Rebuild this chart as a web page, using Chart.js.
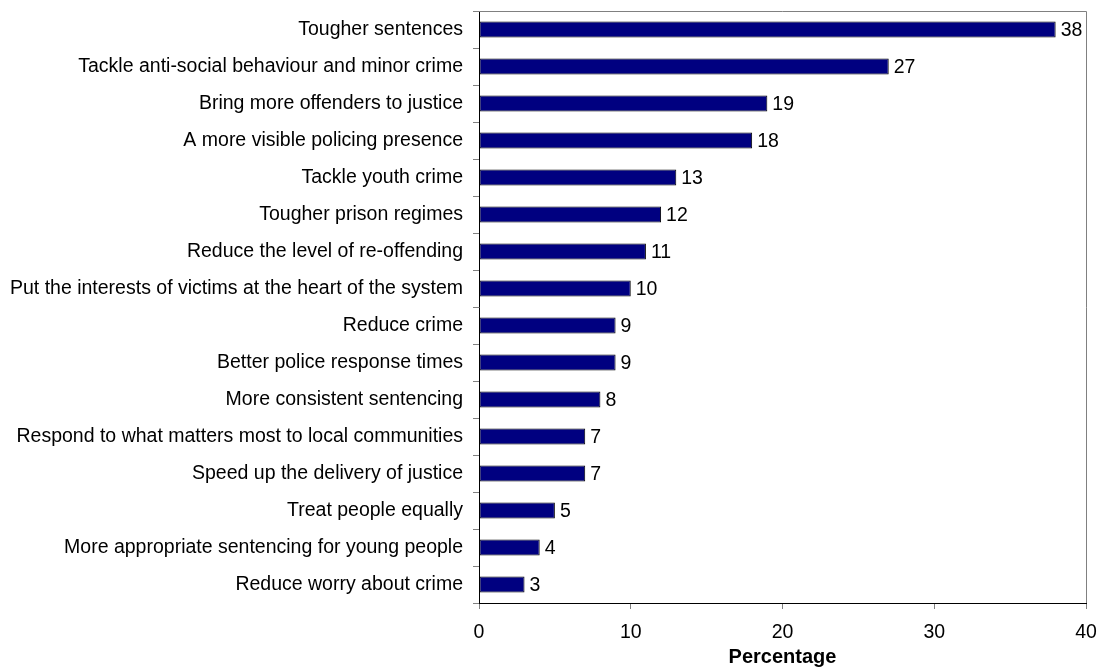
<!DOCTYPE html>
<html><head><meta charset="utf-8">
<script src="https://cdn.jsdelivr.net/npm/chart.js@4/dist/chart.umd.min.js"></script>
<style>html,body{margin:0;padding:0;background:#fff}#wrap{width:1102px;height:669px}</style>
</head><body><div id="wrap"><canvas id="c" width="1102" height="669"></canvas></div>
<script>
const categories = ["Tougher sentences","Tackle anti-social behaviour and minor crime","Bring more offenders to justice","A more visible policing presence","Tackle youth crime","Tougher prison regimes","Reduce the level of re-offending","Put the interests of victims at the heart of the system","Reduce crime","Better police response times","More consistent sentencing","Respond to what matters most to local communities","Speed up the delivery of justice","Treat people equally","More appropriate sentencing for young people","Reduce worry about crime"];
const values = [38,27,19,18,13,12,11,10,9,9,8,7,7,5,4,3];
const xTicks = [0,10,20,30,40];
const xTitle = "Percentage";

const FONT = "'Liberation Sans', Arial, sans-serif";
const FS = 19.5;

const frame = {
  id:'frame',
  afterDraw(chart){
    const {ctx, chartArea:a} = chart;
    ctx.save();
    ctx.strokeStyle = '#808080'; ctx.lineWidth = 1;
    ctx.beginPath();
    ctx.moveTo(a.left, a.top+0.5); ctx.lineTo(a.right+0.5, a.top+0.5); ctx.lineTo(a.right+0.5, a.bottom);
    ctx.stroke();
    const meta = chart.getDatasetMeta(0);
    ctx.fillStyle = '#000'; ctx.font = FS + "px " + FONT;
    ctx.textBaseline = 'middle'; ctx.textAlign = 'left';
    meta.data.forEach((bar,i)=>{
      ctx.fillText(String(values[i]), bar.x + 5, bar.y + 1);
    });
    ctx.restore();
  }
};

new Chart(document.getElementById('c'), {
  type:'bar',
  data:{labels:categories, datasets:[{data:values, backgroundColor:'#000080', borderColor:'#000000', borderWidth:1, borderSkipped:false, barPercentage:0.43, categoryPercentage:1}]},
  options:{
    indexAxis:'y', responsive:false, animation:false,
    layout:{padding:{top:11,right:16,left:0,bottom:0}},
    plugins:{legend:{display:false}, tooltip:{enabled:false}},
    scales:{
      x:{min:0,max:40,
        afterBuildTicks(s){ s.ticks = xTicks.map(v=>({value:v})); },
        afterFit(s){ s.height = 66; s.paddingLeft = 0; s.paddingRight = 0; },
        grid:{drawOnChartArea:false, drawTicks:true, tickLength:6, color:'#808080'},
        border:{color:'#000', width:1},
        ticks:{color:'#000', font:{family:FONT,size:FS}, padding:12},
        title:{display:true, text:xTitle, color:'#000', font:{family:FONT,size:20,weight:'bold'}, padding:{top:0,bottom:0}}
      },
      y:{
        afterFit(s){ s.width = 479; s.paddingTop = 0; s.paddingBottom = 0; },
        grid:{offset:true, drawOnChartArea:false, drawTicks:true, tickLength:6, color:'#808080'},
        border:{color:'#000', width:1},
        ticks:{color:'#000', font:{family:FONT,size:FS}, padding:10, autoSkip:false}
      }
    }
  },
  plugins:[frame]
});
</script></body></html>
